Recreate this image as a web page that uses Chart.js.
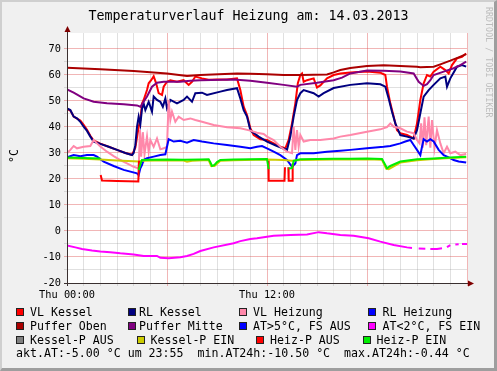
<!DOCTYPE html>
<html>
<head>
<meta charset="utf-8">
<script src="https://cdn.jsdelivr.net/npm/chart.js@4.4.1/dist/chart.umd.min.js"></script>
<style>
  html, body { margin:0; padding:0; background:#f0f0f0; }
  #wrap { position:relative; width:497px; height:371px; background:#f0f0f0; overflow:hidden;
          font-family:'DejaVu Sans Mono', monospace; color:#000; }
  #c { position:absolute; left:0; top:0; }
  #frame { position:absolute; left:0; top:0; width:497px; height:371px; box-sizing:border-box;
           border-left:2px solid #cfcfcf; border-top:2px solid #cfcfcf;
           border-right:3px solid #9e9e9e; border-bottom:3px solid #9e9e9e; pointer-events:none; }
  #title { position:absolute; left:0; width:497px; top:8px; text-align:center; font-size:13.3px; white-space:pre; }
  #unit { position:absolute; left:14px; top:156px; font-size:11.6px; transform:translate(-50%,-50%) rotate(-90deg); white-space:pre; }
  #mark { position:absolute; left:484px; top:7px; writing-mode:vertical-rl; font-size:8.2px; color:#bdbdbd; white-space:pre; letter-spacing:0.1px; }
  .sq { position:absolute; width:6px; height:6px; border:1px solid #222; }
  .lt { position:absolute; font-size:11.6px; white-space:pre; line-height:14px; }
</style>
</head>
<body>
<div id="wrap">
  <canvas id="c" width="497" height="371"></canvas>
  <div id="title">Temperaturverlauf Heizung am: 14.03.2013</div>
  <div id="unit">°C</div>
  <div id="mark">RRDTOOL / TOBI OETIKER</div>
  <div id="legend"></div>
  <div class="lt" style="left:16px; top:346px;">akt.AT:-5.00 °C um 23:55  min.AT24h:-10.50 °C  max.AT24h:-0.44 °C</div>
  <div id="frame"></div>
</div>
<script>
// ---- data: [hour of day, temperature °C] ----
const vlKessel = [[0,47],[0.2,46.3],[0.4,44],[0.6,43.2],[0.8,42.5],[1.0,40.8],[1.2,38.9],[1.4,36.6],[1.6,34.8],[2.0,33.6],[2.5,32.4],[3.0,31.2],[3.5,30],[3.9,29.3],[4.1,32],[4.3,40],[4.4,42.7],[4.5,49],[4.6,50.4],[4.8,54.2],[4.9,56.8],[5.05,58],[5.2,59.5],[5.35,56.8],[5.5,53],[5.7,52.3],[5.8,55.5],[6.0,57.4],[6.2,58],[6.6,57.4],[7.0,58],[7.3,56.2],[7.5,57.4],[7.7,59.4],[8.1,58.7],[8.5,58.2],[9.0,58.3],[9.6,58.3],[10.2,58.7],[10.4,54.2],[10.6,47.8],[10.8,44.6],[11.0,39.5],[11.2,36.9],[11.6,35.3],[12.0,35],[12.4,33.7],[12.8,32.4],[13.1,31.8],[13.3,35],[13.5,41.4],[13.7,49.1],[13.85,56.8],[14.0,60],[14.1,60.6],[14.2,57.4],[14.4,58],[14.8,58.7],[15.0,55.2],[15.2,56],[15.6,58.7],[16.0,60],[16.4,60.6],[17.0,61],[18.0,61.3],[18.8,60.9],[19.1,60],[19.2,55.5],[19.4,49.1],[19.6,44],[19.8,38.8],[20.0,37.6],[20.4,36.9],[20.8,35.6],[21.0,41.4],[21.2,50.4],[21.4,56.8],[21.6,60],[21.8,59.4],[22.0,61.3],[22.4,63.2],[22.7,61.9],[22.9,60.6],[23.1,63.8],[23.4,66.4],[23.7,67],[23.95,68.3]];
const rlKessel = [[0,47.2],[0.2,46.5],[0.4,44],[0.6,43.3],[0.8,42],[1.0,40.1],[1.2,38.5],[1.4,36.3],[1.6,34.4],[2.0,33.5],[2.5,32.4],[3.0,31.2],[3.5,30],[3.9,29.2],[4.0,30],[4.1,33],[4.2,40],[4.3,44],[4.4,41],[4.5,47],[4.6,49],[4.7,46.5],[4.9,49.7],[5.1,45.9],[5.2,51.7],[5.4,50.4],[5.6,49.7],[5.75,47.8],[5.9,51],[6.0,47.2],[6.2,50.4],[6.6,49.1],[7.0,50.4],[7.2,51.7],[7.5,49.7],[7.7,53],[8.1,53.2],[8.4,52.3],[9.2,53.6],[9.6,54.2],[10.2,54.9],[10.4,51],[10.6,46.5],[10.8,44],[11.0,38.8],[11.1,38.2],[11.5,36.3],[12.0,34.4],[12.6,32.7],[13.2,31.2],[13.4,36.3],[13.6,44],[13.8,50.4],[14.0,53],[14.2,54.2],[14.8,53],[15.1,51.7],[15.4,53],[16.0,55],[17.0,56.2],[18.0,56.8],[18.8,56.4],[19.1,55.5],[19.3,51],[19.5,45.9],[19.7,41.4],[20.0,36.9],[20.4,36.3],[20.8,35.6],[21.0,38.8],[21.2,45.3],[21.4,51.7],[21.7,54.2],[22.0,56.2],[22.4,58.7],[22.7,59.4],[22.8,55.5],[23.0,58.7],[23.4,63.2],[23.7,63.8],[23.95,63.2]];
const vlHeizung = [[0,29.9],[0.2,31.2],[0.4,32.7],[0.6,31.8],[1.0,32.4],[1.4,32.7],[1.6,35],[1.8,33.7],[2.0,32.5],[2.4,30.5],[2.8,28.8],[3.2,27.3],[3.6,26],[4.0,24.7],[4.3,24.1],[4.38,38.8],[4.45,28.6],[4.55,38],[4.65,29.5],[4.8,36.3],[4.9,30.5],[5.0,35],[5.2,32.4],[5.4,35.6],[5.6,31.4],[5.8,31.8],[6.0,32.4],[6.1,50.4],[6.2,42.7],[6.3,45.9],[6.5,42],[6.7,44],[7.0,42.7],[7.4,43.3],[7.7,42.7],[8.1,42],[8.8,40.8],[9.6,39.9],[10.4,39.5],[11.0,38.6],[11.4,37.8],[11.8,37.3],[12.0,36.3],[12.4,35],[12.8,32.4],[13.2,30.5],[13.5,29.9],[13.6,40.1],[13.7,31.2],[13.8,38.8],[13.9,32.4],[14.0,36.9],[14.2,34.4],[14.6,35],[15.2,35],[16.0,35.6],[16.4,36.3],[17.0,36.9],[18.0,38.2],[18.8,39.1],[19.2,39.9],[19.4,41.4],[19.6,40.1],[20.0,39.5],[20.4,38.2],[20.8,37.6],[21.0,35],[21.15,33.7],[21.25,41.4],[21.35,32],[21.45,43.7],[21.55,33],[21.7,44],[21.8,32],[21.9,42.7],[22.05,32],[22.2,38.8],[22.4,33.7],[22.6,29.9],[22.8,32.4],[23.0,29.9],[23.3,30.5],[23.6,29.2],[23.95,29.6]];
const rlHeizung = [[0,28.3],[0.4,29.2],[0.8,28.8],[1.2,29.2],[1.6,29.2],[1.8,28.6],[2.2,26.7],[2.8,25],[3.4,23.5],[4.2,22.2],[4.3,21.5],[4.4,24.1],[4.5,25.4],[4.6,27.3],[4.8,28],[5.2,28.6],[5.6,29.2],[5.9,29.5],[6.0,32.4],[6.1,35.3],[6.4,34.4],[6.8,34.7],[7.2,34],[7.6,35],[8.1,34.4],[8.8,33.7],[9.6,33.1],[10.4,32.4],[11.0,31.8],[11.4,32.4],[11.7,32.7],[12.0,31.8],[12.4,30.5],[12.8,29.2],[13.2,27.3],[13.5,24.7],[13.7,26],[13.8,29.2],[14.0,29.9],[14.8,29.9],[15.6,30.5],[16.4,30.9],[17.0,31.2],[18.0,31.8],[19.0,32.4],[19.4,32.7],[20.0,33.7],[20.3,34.4],[20.6,35],[20.8,33.1],[21.0,31.2],[21.2,29.2],[21.3,32.4],[21.4,35.3],[21.6,34.4],[21.8,35.3],[22.0,34.4],[22.3,31.2],[22.6,29.2],[22.9,28.3],[23.2,27.3],[23.5,26.7],[23.95,26.3]];
const pufferOben = [[0,62.8],[2,62.2],[4,61.5],[6,60.6],[7.2,59.6],[8,60],[10.2,60.6],[11,60.5],[12,60.3],[13,60],[14,60],[15.6,60.2],[16,61],[16.4,61.9],[17,62.7],[18,63.5],[19,63.7],[20,63.5],[21,63.2],[21.2,63],[22,63.2],[22.4,64.1],[23,65.5],[23.5,66.8],[23.95,68]];
const pufferMitte = [[0,54.5],[0.4,53.2],[1,51],[1.6,49.7],[2.4,49.1],[3.4,48.7],[4.2,48.3],[4.4,47.8],[4.8,51.7],[5.1,55.5],[5.4,57],[5.8,57.4],[6.8,57.4],[7.4,57.8],[8,58],[10,58.3],[11,57.8],[12,57],[13,56.2],[13.8,55.5],[14,56.2],[15,57],[16,58],[16.5,59],[17,60.6],[18,61.7],[19,61.6],[20,61.3],[20.8,60.6],[21.1,57.4],[21.4,55.8],[21.6,56.5],[21.8,58],[22,60],[22.6,61.3],[23.2,62.6],[23.6,63.8],[23.95,65.1]];
const atUeber5 = [];
const atUnter2 = [[0,-5.6],[0.5,-6.3],[0.9,-6.9],[1.5,-7.5],[2,-7.9],[2.6,-8.2],[3.2,-8.6],[4,-9.0],[4.6,-9.6],[5.4,-9.6],[5.6,-10.3],[6.1,-10.5],[6.8,-10.1],[7.2,-9.6],[7.6,-8.8],[8,-7.7],[8.8,-6.3],[10,-4.7],[10.4,-3.9],[11,-3.1],[11.4,-2.8],[12.4,-1.8],[13.4,-1.5],[14.4,-1.3],[15.1,-0.44],[15.6,-0.9],[16.4,-1.5],[17.2,-1.8],[18.1,-2.8],[18.8,-4.1],[19.6,-5.4],[20.4,-6.3],[20.7,-6.5],[20.8,null],[21.1,-6.7],[21.5,-6.8],[21.6,null],[21.8,-6.9],[22.2,-6.9],[22.5,-6.6],[22.6,null],[22.8,-6.2],[23.0,-5.4],[23.1,null],[23.3,-5.2],[23.5,-5.1],[23.6,null],[23.7,-5.0],[24,-5.0]];
const kesselPAus = [];
const kesselPEin = [[0,28],[1,27.8],[2,27.5],[3,27.1],[4,26.8],[4.3,26.7],[4.5,27],[6,27.2],[7,27.1],[7.2,26.6],[7.5,27],[8.5,27.3],[8.65,25],[8.85,25],[9.2,27],[10,27.2],[12,27.5],[13,27.3],[13.5,27],[14,27.3],[16,27.5],[18,27.6],[18.9,27.4],[19.15,24],[19.3,23.8],[20,26.3],[21,27.2],[22,27.7],[23,28.1],[23.95,28.4]];
const heizPAus = [[2.02,21.5],[2.1,19.4],[3.0,19.2],[4.28,19],[4.32,27],[4.35,null],[12.08,27],[12.1,19.3],[13.05,19.3],[13.08,24.5],[13.1,null],[13.28,24.5],[13.3,19.3],[13.5,19.3],[13.54,26]];
const heizPEin = [[0,28.3],[1,28.1],[2,27.9],[2.05,null],[4.3,23.5],[4.4,25.5],[4.5,27.3],[5,27.4],[6,27.5],[7,27.4],[8,27.5],[8.5,27.6],[8.6,26.5],[8.7,25],[8.85,25.4],[9,26.5],[9.2,27.3],[10,27.5],[11,27.6],[12,27.7],[12.05,27.7],[12.1,23.8],[12.12,null],[13.3,24],[13.5,24.2],[13.6,27],[14,27.6],[15,27.7],[16,27.8],[17,27.8],[18,27.9],[18.9,27.7],[19.1,25.4],[19.2,24.1],[19.4,25],[20,26.7],[21,27.6],[22,27.9],[23,28.3],[23.95,28.6]];

const seriesNames = ['VL Kessel','RL Kessel','VL Heizung','RL Heizung','Puffer Oben','Puffer Mitte','AT>5°C, FS AUS','AT<2°C, FS EIN','Kessel-P AUS','Kessel-P EIN','Heiz-P AUS','Heiz-P EIN'];
const seriesData = [vlKessel, rlKessel, vlHeizung, rlHeizung, pufferOben, pufferMitte, atUeber5, atUnter2, kesselPAus, kesselPEin, heizPAus, heizPEin];
const seriesColors = ['#ff0000','#000080','#ff88aa','#0000ff','#aa0000','#800080','#0000ff','#ff00ff','#808080','#cccc00','#ff0000','#00ee00'];
const xTickLabels = {0:'Thu 00:00', 12:'Thu 12:00'};

// legend layout (row, square left, text left)
const legendPos = [[0,16,30],[0,128,139],[0,239,253],[0,368,382.5],
                   [1,16,30],[1,128,139],[1,239,253],[1,368,382.5],
                   [2,16,30],[2,136.5,150.5],[2,256,270],[2,362.5,376.5]];
const rowY = [312, 325.5, 339.5];
const leg = document.getElementById('legend');
seriesNames.forEach((n,i)=>{
  const [r,sx,tx] = legendPos[i];
  const s = document.createElement('div'); s.className='sq';
  s.style.left = sx+'px'; s.style.top = (rowY[r]-4)+'px'; s.style.background = seriesColors[i];
  leg.appendChild(s);
  const t = document.createElement('div'); t.className='lt';
  t.style.left = tx+'px'; t.style.top = (rowY[r]-7)+'px'; t.textContent = n;
  leg.appendChild(t);
});

const bgPlugin = {
  id:'bg',
  beforeDraw(chart){
    const {ctx, chartArea:a} = chart;
    ctx.save();
    ctx.fillStyle = '#f0f0f0'; ctx.fillRect(0,0,chart.width,chart.height);
    ctx.fillStyle = '#ffffff'; ctx.fillRect(a.left, a.top, a.right-a.left+1, a.bottom-a.top);
    ctx.restore();
  },
  afterDatasetsDraw(chart){
    const {ctx, chartArea:a} = chart;
    ctx.save();
    ctx.strokeStyle = '#3a3030'; ctx.lineWidth = 1;
    ctx.beginPath();
    ctx.moveTo(a.left+0.5, a.bottom+3); ctx.lineTo(a.left+0.5, a.top-5);
    ctx.moveTo(a.left-3, a.bottom+0.5); ctx.lineTo(a.right+3, a.bottom+0.5);
    ctx.stroke();
    ctx.fillStyle = '#7f0000';
    ctx.beginPath();
    ctx.moveTo(a.left+0.5, a.top-7); ctx.lineTo(a.left-2.5, a.top-1); ctx.lineTo(a.left+3.5, a.top-1); ctx.closePath(); ctx.fill();
    ctx.beginPath();
    ctx.moveTo(a.right+7, a.bottom+0.5); ctx.lineTo(a.right+1, a.bottom-2.5); ctx.lineTo(a.right+1, a.bottom+3.5); ctx.closePath(); ctx.fill();
    ctx.restore();
  }
};

const MAJOR = 'rgba(222,80,80,0.42)';
const MINOR = 'rgba(143,143,143,0.28)';

new Chart(document.getElementById('c'), {
  type:'line',
  data:{
    datasets: seriesNames.map((n,i)=>({
      label:n,
      data: seriesData[i].map(([x,y])=>({x,y})),
      borderColor: seriesColors[i],
      backgroundColor: seriesColors[i],
      borderWidth: 2,
      pointRadius: 0,
      tension: 0,
      fill: false,
      spanGaps: false,
      order: seriesNames.length - i
    }))
  },
  options:{
    responsive:false,
    animation:false,
    devicePixelRatio:1,
    layout:{ padding:{ left:0, top:33, right:30, bottom:0 } },
    plugins:{ legend:{display:false}, title:{display:false}, tooltip:{enabled:false} },
    scales:{
      x:{
        type:'linear', min:0, max:24,
        afterFit(s){ s.height = 88; },
        border:{display:false},
        grid:{ color: c => (c.tick.value % 6 === 0 ? MAJOR : MINOR), tickLength:3, drawTicks:true, lineWidth:1 },
        ticks:{ stepSize:1, autoSkip:false, maxRotation:0, padding:3, color:'#000',
                font:{family:"'DejaVu Sans Mono', monospace", size:10.3},
                callback: v => (xTickLabels[v] !== undefined ? xTickLabels[v] : '') }
      },
      y:{
        type:'linear', min:-20, max:76.15,
        afterFit(s){ s.width = 67; },
        afterBuildTicks(s){ s.ticks = s.ticks.filter(t => Math.abs(t.value/5 - Math.round(t.value/5)) < 1e-6); },
        border:{display:false},
        grid:{ color: c => (c.tick.value % 10 === 0 ? MAJOR : MINOR), tickLength:3, drawTicks:true, lineWidth:1 },
        ticks:{ stepSize:5, autoSkip:false, padding:3, color:'#000',
                font:{family:"'DejaVu Sans Mono', monospace", size:10.3},
                callback: v => (v % 10 === 0 ? String(v) : '') }
      }
    }
  },
  plugins:[bgPlugin]
});
</script>
</body>
</html>
